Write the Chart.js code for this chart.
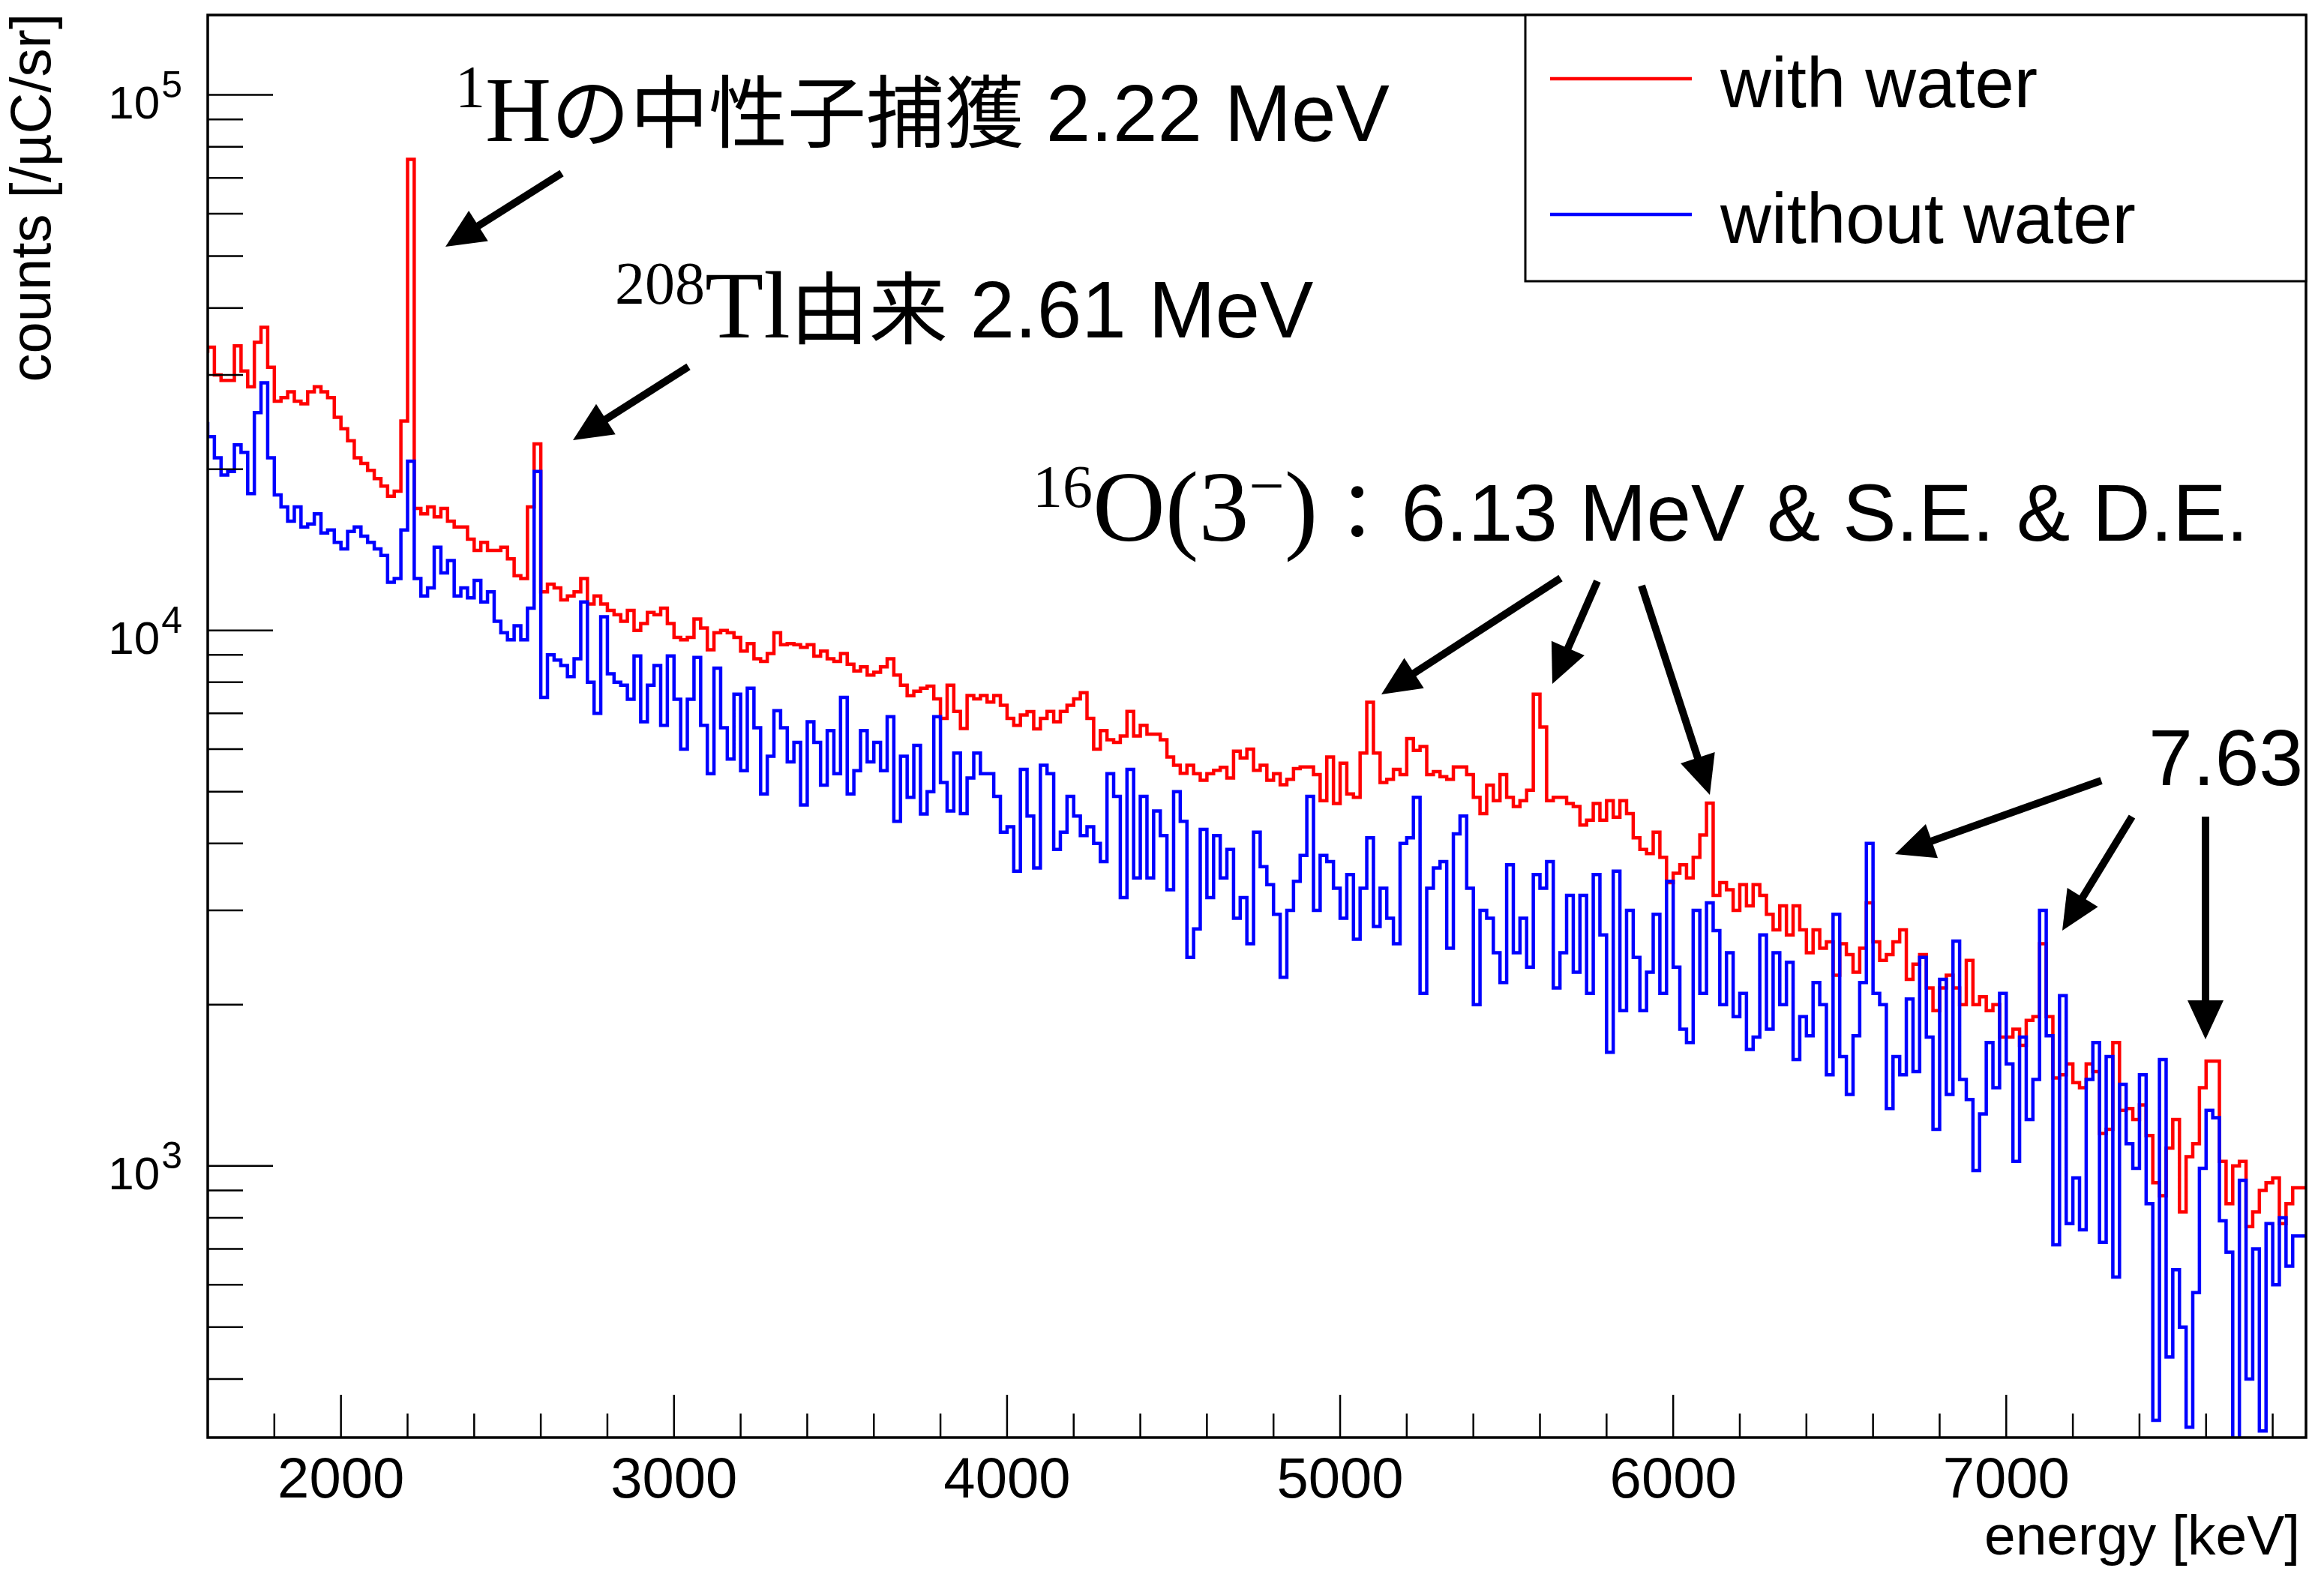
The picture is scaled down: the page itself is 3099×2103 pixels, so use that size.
<!DOCTYPE html>
<html><head><meta charset="utf-8">
<script src="https://cdn.jsdelivr.net/npm/chart.js@4.4.1/dist/chart.umd.min.js"></script>
<style>html,body{margin:0;padding:0;background:#fff;}#wrap{width:3099px;height:2103px;position:relative;}</style>
</head><body><div id="wrap"><canvas id="c"></canvas></div>
<script>
// ---- data ----
const BIN_START = 1600;   // keV, left edge of first bin
const BIN_WIDTH = 20;     // keV
const seriesLabels = ['with water', 'without water'];
const withWater = [
33000,33800,30000,29300,29300,34000,30500,28500,34500,36800,
31000,26800,27200,27900,26800,26500,27900,28500,27900,27200,
25000,23800,22600,21000,20500,19900,19200,18600,17800,18200,
24600,75800,16900,16500,17000,16300,16900,16000,15600,15600,
14800,14100,14600,14100,14100,14300,13600,12650,12500,17000,
22300,11800,12200,12000,11400,
11600,11800,12500,11200,11600,11200,10900,10700,10400,10900,
10000,10300,10800,10700,11000,10300,9700,9600,9700,10500,
10100,9200,9900,10000,9900,9700,9150,9450,8850,8750,
9050,9900,9400,9450,9400,9300,9400,8950,9150,8850,
8750,9050,8650,8400,8550,8250,8350,8550,8850,8250,
7900,7550,7700,7800,
7870,7450,6850,7900,7060,6560,7560,7450,7560,7350,
7560,7250,6850,6650,6950,7050,6550,6850,7060,6750,
7060,7250,7450,7650,6850,6000,6500,6250,6180,6350,
7060,6350,6650,6400,6400,6250,5800,5600,5410,5600,
5400,5250,5400,5480,5550,5300,5950,5780,6000,5480,
5600,5250,5400,5150,
5270,5520,5560,5560,5380,4810,5800,4750,5650,4950,
4880,5900,7340,5900,5200,5270,5500,5380,6280,5970,
6070,5380,5450,5330,5270,5560,5560,5380,4880,4550,
5140,4810,5380,4880,4690,4810,5030,7600,6600,4810,
4880,4880,4750,4690,4330,4420,4750,4420,4810,4480,
4810,4550,4100,3900,
3830,4200,3770,3380,3520,3650,3450,3770,4150,4760,
3200,3380,3280,3000,3350,3060,3350,3200,2950,2760,
3060,2700,3060,2760,2500,2760,2550,2620,2270,2600,
2480,2300,2550,3100,2620,2420,2480,2620,2760,2230,
2380,2480,2150,1950,2150,2270,2150,2000,2420,2000,
2070,1950,2000,1740,
1740,1800,1680,1870,1900,2600,1900,1460,1480,1550,
1430,1400,1550,1500,1150,1170,1700,1270,1280,1220,
1300,1140,930,880,1080,1220,820,1040,1100,1400,
1570,1570,1020,850,1000,1020,770,820,900,930,
950,780,850,910
];
const withoutWater = [
24500,23000,21000,19500,19800,22200,21500,18000,25500,29000,
21000,17900,17000,16000,17000,15600,15800,16500,15200,15400,
14600,14200,15300,15600,15000,14600,14200,13800,12300,12500,
15400,20700,12500,11600,12000,14300,12800,13500,11600,12000,
11500,12400,11300,11800,10400,9900,9600,10200,9600,11000,
19800,7500,9000,8800,8600,
8200,8850,11300,8000,7000,10600,8300,8000,7900,7440,
8960,6750,7900,8600,6650,8960,7440,6000,7440,8900,
6650,5400,8500,6580,5750,7600,5470,7800,6580,4950,
5820,7080,6580,5680,6180,4720,6750,6180,5140,6500,
5400,7500,4950,5470,6500,5680,6180,5470,6900,4400,
5820,4880,6100,4540,
5000,6900,5200,4600,5900,4550,5300,5900,5400,5400,
4900,4200,4300,3550,5500,4500,3600,5600,5400,3900,
4200,4900,4500,4140,4300,4000,3700,5400,4900,3170,
5500,3450,4900,3450,4600,4140,3280,5000,4400,2450,
2770,4250,3170,4140,3450,3900,2900,3170,2600,4200,
3620,3350,2950,2250,
3000,3400,3800,4900,3000,3800,3700,3300,2900,3500,
2650,3300,4100,2800,3300,2900,2600,4000,4100,4880,
2100,3300,3600,3700,2550,4170,4500,3300,2000,3000,
2900,2500,2200,3650,2500,2900,2350,3500,3300,3700,
2150,2500,3200,2300,3200,2100,3500,2700,1630,3550,
1950,3000,2450,1950,
2300,2950,2100,3400,2350,1800,1700,3000,2100,3100,
2750,2000,2500,1900,2100,1650,1740,2700,1800,2500,
2000,2400,1580,1900,1750,2200,2000,1480,2950,1600,
1360,1750,2200,4000,2100,2000,1280,1600,1480,2050,
1500,2450,1740,1170,2230,1360,2630,1450,1330,980,
1250,1700,1400,2100,
1550,1020,1740,1220,1450,3000,1750,712,2080,780,
950,760,1450,1700,720,1600,620,1420,1100,990,
1480,850,335,1580,440,640,500,325,580,990,
1270,1230,790,690,290,940,400,700,320,780,
600,800,650,740
];
const xRange = [1600, 7900];
const yRange = [311, 141000];
const xMajorTicks = [2000, 3000, 4000, 5000, 6000, 7000];
const xTickLabels = ['2000', '3000', '4000', '5000', '6000', '7000'];
const xMinorStep = 200;
const yMajorTicks = [1e3, 1e4, 1e5];
const yTickExponents = ['3', '4', '5'];
const xTitle = 'energy [keV]';
const yTitle = 'counts [/\u00B5C/sr]';

// ---- build histogram step points ----
function histPoints(vals) {
  const pts = vals.map((v, i) => ({ x: BIN_START + i * BIN_WIDTH, y: v }));
  pts.push({ x: BIN_START + vals.length * BIN_WIDTH, y: vals[vals.length - 1] });
  return pts;
}

const SANS = '"Liberation Sans", Arial, Helvetica, sans-serif';
const SERIF = '"Liberation Serif", "Times New Roman", serif';
const JP = '"Noto Sans CJK JP", sans-serif';

const annotations = [
  { x: 607, y: 188, runs: [
    { t: '1', f: '80px ' + SERIF, dy: -45 },
    { t: 'H', f: '122px ' + SERIF },
    { t: 'の中性子捕獲', f: '105px ' + JP },
    { t: ' 2.22 MeV', f: '107px ' + SANS } ] },
  { x: 820, y: 450, runs: [
    { t: '208', f: '80px ' + SERIF, dy: -45 },
    { t: 'Tl', f: '128px ' + SERIF },
    { t: '由来', f: '105px ' + JP },
    { t: ' 2.61 MeV', f: '107px ' + SANS } ] },
  { x: 1377, y: 721, runs: [
    { t: '16', f: '80px ' + SERIF, dy: -45 },
    { t: 'O(3', f: '134px ' + SERIF },
    { t: '\u2212', f: '84px ' + SERIF, dy: -45 },
    { t: ')', f: '134px ' + SERIF },
    { t: '\uFF1A', f: '105px ' + JP, gap: 6 },
    { t: '6.13 MeV & S.E. & D.E.', f: '107px ' + SANS } ] },
  { x: 2865, y: 1047, runs: [ { t: '7.63', f: '106px ' + SANS } ] }
];
const arrows = [
  [749, 231, 594, 329],
  [918, 489, 764, 587],
  [2081, 771, 1842, 926],
  [2130, 775, 2070, 912],
  [2189, 781, 2280, 1060],
  [2802, 1041, 2527, 1139],
  [2843, 1089, 2750, 1241],
  [2941, 1089, 2941, 1386]
];

function drawRuns(ctx, x, y, runs) {
  ctx.textAlign = 'left'; ctx.textBaseline = 'alphabetic';
  for (const r of runs) {
    ctx.font = r.f;
    ctx.fillText(r.t, x, y + (r.dy || 0));
    x += ctx.measureText(r.t).width + (r.gap || 0);
  }
}
function drawArrow(ctx, x1, y1, x2, y2) {
  const a = Math.atan2(y2 - y1, x2 - x1), L = 52, W = 24;
  const bx = x2 - L * Math.cos(a), by = y2 - L * Math.sin(a);
  ctx.lineWidth = 10; ctx.lineCap = 'butt';
  ctx.beginPath(); ctx.moveTo(x1, y1); ctx.lineTo(bx + 4 * Math.cos(a), by + 4 * Math.sin(a)); ctx.stroke();
  ctx.beginPath(); ctx.moveTo(x2, y2);
  ctx.lineTo(bx + W * Math.sin(a), by - W * Math.cos(a));
  ctx.lineTo(bx - W * Math.sin(a), by + W * Math.cos(a));
  ctx.closePath(); ctx.fill();
}

const rootStyle = {
  id: 'rootStyle',
  afterDatasetsDraw(chart) {
    const ctx = chart.ctx, ca = chart.chartArea, xs = chart.scales.x, ys = chart.scales.y;
    ctx.save();
    ctx.strokeStyle = '#000'; ctx.fillStyle = '#000';
    // frame
    ctx.lineWidth = 3.5;
    ctx.strokeRect(ca.left, ca.top, ca.right - ca.left, ca.bottom - ca.top);
    // x ticks
    ctx.lineWidth = 2.5;
    for (let v = xRange[0] + xMinorStep; v < xRange[1]; v += xMinorStep) {
      const px = xs.getPixelForValue(v);
      const len = (v % 1000 === 0) ? 57 : 32;
      ctx.beginPath(); ctx.moveTo(px, ca.bottom); ctx.lineTo(px, ca.bottom - len); ctx.stroke();
    }
    // y ticks
    for (let e = 2; e <= 5; e++) {
      for (let k = 1; k <= 9; k++) {
        const v = k * Math.pow(10, e);
        if (v < yRange[0] || v > yRange[1]) continue;
        const py = ys.getPixelForValue(v);
        const len = (k === 1) ? 87 : 47;
        ctx.beginPath(); ctx.moveTo(ca.left, py); ctx.lineTo(ca.left + len, py); ctx.stroke();
      }
    }
    // x tick labels
    ctx.font = '76px ' + SANS; ctx.textAlign = 'center'; ctx.textBaseline = 'alphabetic';
    xMajorTicks.forEach((v, i) => ctx.fillText(xTickLabels[i], xs.getPixelForValue(v), ca.bottom + 80));
    // y tick labels 10^n
    yMajorTicks.forEach((v, i) => {
      const py = ys.getPixelForValue(v);
      const right = ca.left - 34;
      ctx.textAlign = 'right';
      ctx.font = '50px ' + SANS;
      const w = ctx.measureText(yTickExponents[i]).width;
      ctx.fillText(yTickExponents[i], right, py + 3);
      ctx.font = '62px ' + SANS;
      ctx.fillText('10', right - w - 2, py + 31);
    });
    // axis titles
    ctx.font = '75px ' + SANS; ctx.textAlign = 'right';
    ctx.fillText(xTitle, ca.right - 8, ca.bottom + 156);
    ctx.save();
    ctx.translate(67, 18); ctx.rotate(-Math.PI / 2);
    ctx.font = '76px ' + SANS; ctx.textAlign = 'right';
    ctx.fillText(yTitle, 0, 0);
    ctx.restore();
    // legend
    const lx = ca.right - 1041, ly = ca.top, lw = 1041, lh = 355;
    ctx.fillStyle = '#fff'; ctx.fillRect(lx, ly, lw, lh);
    ctx.lineWidth = 3; ctx.strokeStyle = '#000'; ctx.strokeRect(lx, ly, lw, lh);
    const colors = chart.data.datasets.map(d => d.borderColor);
    const rows = [{ y: ly + 85, lab: seriesLabels[0], c: colors[0] }, { y: ly + 266, lab: seriesLabels[1], c: colors[1] }];
    ctx.font = '94px ' + SANS; ctx.textAlign = 'left';
    rows.forEach(r => {
      ctx.strokeStyle = r.c; ctx.lineWidth = 4.5;
      ctx.beginPath(); ctx.moveTo(lx + 33, r.y); ctx.lineTo(lx + 222, r.y); ctx.stroke();
      ctx.fillStyle = '#000'; ctx.fillText(r.lab, lx + 260, r.y + 38);
    });
    // annotations
    ctx.fillStyle = '#000'; ctx.strokeStyle = '#000';
    annotations.forEach(a => drawRuns(ctx, a.x, a.y, a.runs));
    arrows.forEach(a => drawArrow(ctx, a[0], a[1], a[2], a[3]));
    ctx.restore();
  }
};

new Chart(document.getElementById('c'), {
  type: 'line',
  data: {
    datasets: [
      { label: seriesLabels[0], data: histPoints(withWater), borderColor: '#ff0000', borderWidth: 4.5, stepped: 'after', pointRadius: 0, fill: false, order: 1 },
      { label: seriesLabels[1], data: histPoints(withoutWater), borderColor: '#0000ff', borderWidth: 4.5, stepped: 'after', pointRadius: 0, fill: false, order: 0 }
    ]
  },
  options: {
    responsive: true, maintainAspectRatio: false, animation: false, devicePixelRatio: 1,
    layout: { padding: { left: 277, right: 24, top: 20, bottom: 186 } },
    plugins: { legend: { display: false }, tooltip: { enabled: false } },
    scales: {
      x: { type: 'linear', min: xRange[0], max: xRange[1], display: false },
      y: { type: 'logarithmic', min: yRange[0], max: yRange[1], display: false }
    }
  },
  plugins: [rootStyle]
});
</script></body></html>
